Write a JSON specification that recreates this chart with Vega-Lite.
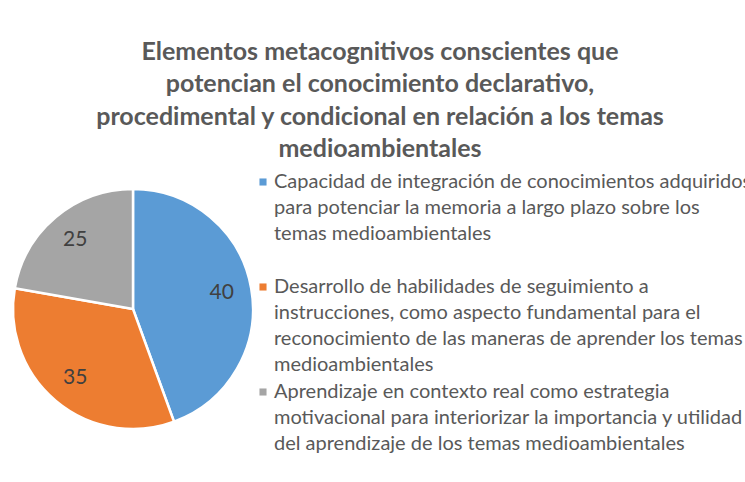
{
  "$schema": "https://vega.github.io/schema/vega-lite/v6.json",
  "width": 250,
  "height": 250,
  "padding": {"left": 8, "top": 39, "right": 0, "bottom": 0},
  "autosize": {"type": "pad"},
  "background": "white",
  "title": {
    "text": ["Elementos metacognitivos conscientes que", "potencian el conocimiento declarativo,", "procedimental y condicional en relación a los temas", "medioambientales"],
    "anchor": "middle",
    "frame": "bounds",
    "font": "Lato",
    "fontSize": 25,
    "fontWeight": "bold",
    "color": "#595959",
    "lineHeight": 32.5,
    "offset": 10
  },
  "data": {
    "values": [
      {"categoria": "Capacidad de integración de conocimientos adquiridos para potenciar la memoria a largo plazo sobre los temas medioambientales", "sector": 40, "valor": 40},
      {"categoria": "Desarrollo de habilidades de seguimiento a instrucciones, como aspecto fundamental para el reconocimiento de las maneras de aprender los temas medioambientales", "sector": 30, "valor": 35},
      {"categoria": "Aprendizaje en contexto real como estrategia motivacional para interiorizar la importancia y utilidad del aprendizaje de los temas medioambientales", "sector": 20, "valor": 25}
    ]
  },
  "encoding": {
    "theta": {"field": "sector", "type": "quantitative", "stack": true},
    "order": {"field": "sector", "type": "quantitative", "sort": "descending"}
  },
  "layer": [
    {
      "mark": {"type": "arc", "outerRadius": 120, "stroke": "white", "strokeWidth": 2.5},
      "encoding": {
        "color": {
          "field": "categoria",
          "type": "nominal",
          "sort": null,
          "scale": {
            "domain": [
              "Capacidad de integración de conocimientos adquiridos para potenciar la memoria a largo plazo sobre los temas medioambientales",
              "Desarrollo de habilidades de seguimiento a instrucciones, como aspecto fundamental para el reconocimiento de las maneras de aprender los temas medioambientales",
              "Aprendizaje en contexto real como estrategia motivacional para interiorizar la importancia y utilidad del aprendizaje de los temas medioambientales"
            ],
            "range": ["#5B9BD5", "#ED7D31", "#A5A5A5"]
          },
          "legend": {
            "orient": "none",
            "legendX": 245,
            "legendY": -12,
            "title": null,
            "padding": 0,
            "symbolType": "square",
            "symbolSize": 50,
            "symbolStrokeWidth": 0,
            "labelFont": "Lato",
            "labelFontSize": 20,
            "labelColor": "#595959",
            "labelLimit": 0,
            "labelOffset": 1,
            "rowPadding": 7,
            "labelExpr": "indexof(datum.label,'Capacidad')==0 ? ['Capacidad de integración de conocimientos adquiridos','para potenciar la memoria a largo plazo sobre los','temas medioambientales',' '] : indexof(datum.label,'Desarrollo')==0 ? ['Desarrollo de habilidades de seguimiento a','instrucciones, como aspecto fundamental para el','reconocimiento de las maneras de aprender los temas','medioambientales'] : ['Aprendizaje en contexto real como estrategia','motivacional para interiorizar la importancia y utilidad','del aprendizaje de los temas medioambientales',' ']"
          }
        }
      }
    },
    {
      "mark": {"type": "text", "radius": 90, "font": "Lato", "fontSize": 21, "fill": "#404040", "align": "center", "baseline": "middle"},
      "encoding": {
        "text": {"field": "valor", "type": "quantitative"},
        "detail": {"field": "categoria", "type": "nominal"}
      }
    }
  ],
  "config": {
    "view": {"stroke": null},
    "style": {"guide-label": {"lineHeight": 26}}
  }
}
